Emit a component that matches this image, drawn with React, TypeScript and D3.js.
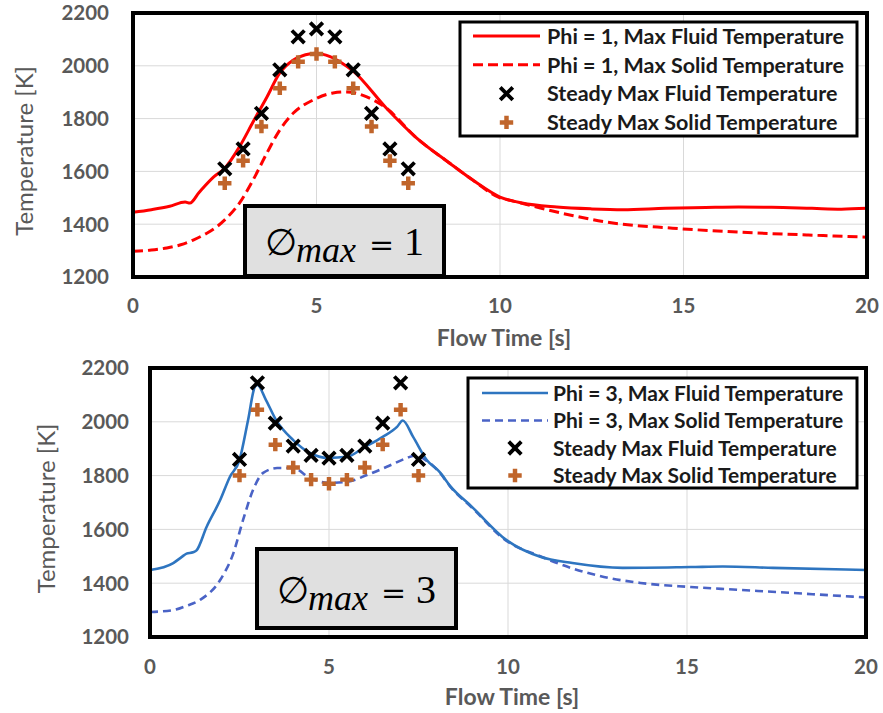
import React, { useRef, useEffect } from "react";
import * as d3 from "d3";

// axes
const timeTicks = [0, 5, 10, 15, 20];
const tempTicks = [1200, 1400, 1600, 1800, 2000, 2200];

// steady state points (same times in both charts)
const steadyTimes = [2.5, 3, 3.5, 4, 4.5, 5, 5.5, 6, 6.5, 7, 7.5];
const phi1SteadyFluid = [1610, 1685, 1820, 1985, 2110, 2140, 2110, 1985, 1820, 1685, 1610];
const phi1SteadySolid = [1555, 1640, 1770, 1915, 2015, 2045, 2015, 1915, 1770, 1640, 1555];
const phi3SteadyFluid = [1860, 2145, 1995, 1910, 1875, 1865, 1875, 1910, 1995, 2145, 1860];
const phi3SteadySolid = [1800, 2045, 1915, 1830, 1785, 1770, 1785, 1830, 1915, 2045, 1800];

// Phi = 1 transient
const phi1FluidTime = [0, 0.5, 1.0, 1.42, 1.55, 1.8, 2.2, 2.5, 2.9, 3.27, 3.65, 4.0, 4.37, 4.7, 4.96, 5.37, 5.7, 6.0, 6.9, 7.7, 8.64, 9.26, 10.0, 10.6, 11.55, 12.5, 13.35, 14.5, 15.6, 16.5, 17.4, 18.5, 19.3, 20];
const phi1FluidTemp = [1445, 1455, 1468, 1484, 1480, 1520, 1579, 1612, 1693, 1787, 1882, 1973, 2022, 2042, 2048, 2035, 2010, 1980, 1840, 1730, 1630, 1567, 1503, 1480, 1465, 1458, 1455, 1460, 1463, 1465, 1464, 1460, 1457, 1460];
const phi1SolidTime = [0, 0.5, 0.92, 1.3, 1.64, 2.0, 2.28, 2.6, 2.9, 3.27, 3.65, 4.0, 4.37, 4.9, 5.45, 5.83, 6.37, 6.9, 7.7, 8.64, 9.26, 10.0, 10.35, 11.1, 12.0, 12.9, 14.7, 16.5, 18.4, 20];
const phi1SolidTemp = [1298, 1302, 1310, 1322, 1340, 1365, 1390, 1430, 1480, 1567, 1670, 1757, 1821, 1870, 1897, 1901, 1882, 1840, 1730, 1630, 1567, 1500, 1488, 1461, 1432, 1408, 1385, 1370, 1359, 1351];

// Phi = 3 transient
const phi3FluidTime = [0, 0.65, 0.88, 1.02, 1.2, 1.3, 1.58, 1.96, 2.23, 2.5, 2.74, 2.93, 3.0, 3.24, 3.52, 4.0, 4.47, 4.97, 5.5, 6.0, 6.5, 6.9, 7.06, 7.35, 7.73, 8.1, 8.38, 9.0, 9.95, 10.9, 11.8, 13.2, 15.1, 16.0, 17.4, 20];
const phi3FluidTemp = [1449, 1475, 1497, 1510, 1515, 1522, 1609, 1709, 1795, 1858, 2007, 2130, 2137, 2081, 2007, 1932, 1884, 1866, 1870, 1906, 1944, 1981, 2005, 1944, 1858, 1812, 1762, 1683, 1561, 1498, 1475, 1457, 1460, 1462, 1457, 1449];
const phi3SolidTime = [0, 0.65, 1.0, 1.4, 1.96, 2.33, 2.6, 2.88, 3.16, 3.55, 4.0, 4.47, 4.97, 5.5, 6.06, 6.6, 7.17, 7.4, 7.73, 8.1, 8.38, 9.0, 9.95, 10.9, 11.8, 12.8, 13.7, 15.1, 16.5, 17.9, 20];
const phi3SolidTemp = [1293, 1300, 1315, 1338, 1412, 1512, 1635, 1747, 1810, 1828, 1828, 1791, 1773, 1777, 1802, 1832, 1865, 1875, 1855, 1810, 1760, 1680, 1558, 1500, 1455, 1420, 1401, 1386, 1375, 1364, 1347];

const phi1Legend = ["Phi = 1, Max Fluid Temperature", "Phi = 1, Max Solid Temperature", "Steady Max Fluid Temperature", "Steady Max Solid Temperature"];
const phi3Legend = ["Phi = 3, Max Fluid Temperature", "Phi = 3, Max Solid Temperature", "Steady Max Fluid Temperature", "Steady Max Solid Temperature"];

const GRAY = "#595959";
const BROWN = "#c0652b";
const FONT = "Lato, 'Open Sans', sans-serif";

function drawPanel(svg, cfg) {
  const x = d3.scaleLinear().domain([0, 20]).range([cfg.left, cfg.right]);
  const y = d3.scaleLinear().domain([1200, 2200]).range([cfg.bottom, cfg.top]);
  const g = svg.append("g");

  // grid
  g.selectAll(".vgrid")
    .data(timeTicks.slice(1, -1))
    .join("line")
    .attr("x1", (d) => x(d))
    .attr("x2", (d) => x(d))
    .attr("y1", cfg.top)
    .attr("y2", cfg.bottom)
    .attr("stroke", "#d9d9d9")
    .attr("stroke-width", 1);
  g.selectAll(".hgrid")
    .data(tempTicks.slice(1, -1))
    .join("line")
    .attr("x1", cfg.left)
    .attr("x2", cfg.right)
    .attr("y1", (d) => y(d))
    .attr("y2", (d) => y(d))
    .attr("stroke", "#d9d9d9")
    .attr("stroke-width", 1);

  // tick labels
  g.selectAll(".ytick")
    .data(tempTicks)
    .join("text")
    .attr("x", cfg.yLabelX)
    .attr("y", (d) => y(d))
    .attr("dy", "0.36em")
    .attr("text-anchor", "end")
    .style("font-family", FONT)
    .style("font-weight", 700)
    .style("font-size", "20.5px")
    .style("fill", GRAY)
    .text((d) => d);
  g.selectAll(".xtick")
    .data(timeTicks)
    .join("text")
    .attr("x", (d) => x(d))
    .attr("y", cfg.xLabelY)
    .attr("text-anchor", "middle")
    .style("font-family", FONT)
    .style("font-weight", 700)
    .style("font-size", "20.5px")
    .style("fill", GRAY)
    .text((d) => d);

  // axis titles
  g.append("text")
    .attr("x", (cfg.left + cfg.right) / 2 + 4)
    .attr("y", cfg.xTitleY)
    .attr("text-anchor", "middle")
    .style("font-family", FONT)
    .style("font-weight", 700)
    .style("font-size", "23px")
    .style("fill", GRAY)
    .text("Flow Time [s]");
  g.append("text")
    .attr("transform", `translate(${cfg.yTitleX},${(cfg.top + cfg.bottom) / 2 + 6}) rotate(-90)`)
    .attr("text-anchor", "middle")
    .attr("dy", "0.35em")
    .style("font-family", FONT)
    .style("font-size", "24px")
    .style("fill", GRAY)
    .text("Temperature [K]");

  // transient lines
  const line = d3
    .line()
    .x((d) => x(d[0]))
    .y((d) => y(d[1]))
    .curve(d3.curveMonotoneX);

  g.append("path")
    .datum(d3.zip(cfg.solidTime, cfg.solidTemp))
    .attr("d", line)
    .attr("fill", "none")
    .attr("stroke", cfg.dashColor)
    .attr("stroke-width", cfg.lineWidth)
    .attr("stroke-dasharray", cfg.dash);
  g.append("path")
    .datum(d3.zip(cfg.fluidTime, cfg.fluidTemp))
    .attr("d", line)
    .attr("fill", "none")
    .attr("stroke", cfg.lineColor)
    .attr("stroke-width", cfg.lineWidth);

  // steady markers
  const plus = d3.symbol(d3.symbolCross, 100);
  const times = d3.symbol(d3.symbolTimes, 105);
  g.selectAll(".plus")
    .data(d3.zip(steadyTimes, cfg.steadySolid))
    .join("path")
    .attr("transform", (d) => `translate(${x(d[0])},${y(d[1])})`)
    .attr("d", plus)
    .attr("fill", BROWN);
  g.selectAll(".times")
    .data(d3.zip(steadyTimes, cfg.steadyFluid))
    .join("path")
    .attr("transform", (d) => `translate(${x(d[0])},${y(d[1])})`)
    .attr("d", times)
    .attr("fill", "none")
    .attr("stroke", "#000")
    .attr("stroke-width", 3.8);

  // frame
  g.append("rect")
    .attr("x", cfg.left)
    .attr("y", cfg.top)
    .attr("width", cfg.right - cfg.left)
    .attr("height", cfg.bottom - cfg.top)
    .attr("fill", "none")
    .attr("stroke", "#000")
    .attr("stroke-width", 4);

  // phi box
  const pb = cfg.phiBox;
  g.append("rect")
    .attr("x", pb.x)
    .attr("y", pb.y)
    .attr("width", pb.w)
    .attr("height", pb.h)
    .attr("fill", "#e0e0e0")
    .attr("stroke", "#000")
    .attr("stroke-width", 4);
  const pt = g
    .append("text")
    .attr("x", pb.x + pb.w / 2)
    .attr("y", pb.y + pb.h / 2 + 14)
    .attr("text-anchor", "middle")
    .style("fill", "#000");
  pt.append("tspan").style("font-family", "'DejaVu Serif'").style("font-size", "37px").text("\u2205");
  pt.append("tspan")
    .attr("dy", 7)
    .attr("dx", -1)
    .style("font-family", "'Liberation Serif'")
    .style("font-style", "italic")
    .style("font-size", "36px")
    .text("max");
  pt.append("tspan")
    .attr("dy", -7)
    .attr("dx", 13)
    .style("font-family", "'DejaVu Serif'")
    .style("font-size", "30px")
    .text("=");
  pt.append("tspan")
    .attr("dx", 10)
    .style("font-family", "'Liberation Serif'")
    .style("font-size", "40px")
    .text(cfg.phi);

  // legend
  const lg = cfg.legend;
  g.append("rect")
    .attr("x", lg.x)
    .attr("y", lg.y)
    .attr("width", lg.w)
    .attr("height", lg.h)
    .attr("fill", "#fff")
    .attr("stroke", "#000")
    .attr("stroke-width", 3);
  const rows = g
    .selectAll(".lrow")
    .data(cfg.legendLabels)
    .join("g")
    .attr("transform", (d, i) => `translate(${lg.x},${lg.y + lg.firstRow + i * lg.rowGap})`);
  rows
    .append("text")
    .attr("x", lg.textX)
    .attr("dy", "0.36em")
    .style("font-family", FONT)
    .style("font-weight", 700)
    .style("font-size", lg.fontSize + "px")
    .style("fill", "#1a1a1a")
    .text((d) => d);
  rows
    .filter((d, i) => i < 2)
    .append("line")
    .attr("x1", lg.sampleX0)
    .attr("x2", lg.sampleX1)
    .attr("stroke", (d, i) => (i === 0 ? cfg.lineColor : cfg.dashColor))
    .attr("stroke-width", cfg.lineWidth)
    .attr("stroke-dasharray", (d, i) => (i === 0 ? null : cfg.dash));
  rows
    .filter((d, i) => i === 2)
    .append("path")
    .attr("transform", `translate(${(lg.sampleX0 + lg.sampleX1) / 2},0)`)
    .attr("d", times)
    .attr("fill", "none")
    .attr("stroke", "#000")
    .attr("stroke-width", 3.8);
  rows
    .filter((d, i) => i === 3)
    .append("path")
    .attr("transform", `translate(${(lg.sampleX0 + lg.sampleX1) / 2},0)`)
    .attr("d", plus)
    .attr("fill", BROWN);
}

function Chart() {
  const ref = useRef(null);

  useEffect(() => {
    const svg = d3.select(ref.current);
    svg.selectAll("*").remove();

    drawPanel(svg, {
      left: 133,
      right: 867,
      top: 13,
      bottom: 277,
      yLabelX: 109,
      xLabelY: 313,
      xTitleY: 346,
      yTitleX: 25,
      lineColor: "#ff0000",
      dashColor: "#ff0000",
      lineWidth: 3,
      dash: "10,5",
      fluidTime: phi1FluidTime,
      fluidTemp: phi1FluidTemp,
      solidTime: phi1SolidTime,
      solidTemp: phi1SolidTemp,
      steadyFluid: phi1SteadyFluid,
      steadySolid: phi1SteadySolid,
      phi: 1,
      phiBox: { x: 245, y: 206, w: 199, h: 70 },
      legend: { x: 460, y: 22, w: 397, h: 114, firstRow: 14, rowGap: 28.8, textX: 87, sampleX0: 13, sampleX1: 80, fontSize: 21.5 },
      legendLabels: phi1Legend,
    });

    drawPanel(svg, {
      left: 150,
      right: 866,
      top: 368,
      bottom: 637,
      yLabelX: 129,
      xLabelY: 674,
      xTitleY: 705,
      yTitleX: 47,
      lineColor: "#2e75c0",
      dashColor: "#4a63c6",
      lineWidth: 2.6,
      dash: "8,5",
      fluidTime: phi3FluidTime,
      fluidTemp: phi3FluidTemp,
      solidTime: phi3SolidTime,
      solidTemp: phi3SolidTemp,
      steadyFluid: phi3SteadyFluid,
      steadySolid: phi3SteadySolid,
      phi: 3,
      phiBox: { x: 257, y: 549, w: 199, h: 79 },
      legend: { x: 468, y: 378, w: 389, h: 110, firstRow: 15, rowGap: 27.5, textX: 85, sampleX0: 14, sampleX1: 80, fontSize: 21 },
      legendLabels: phi3Legend,
    });
  }, []);

  return (
    <svg
      ref={ref}
      width={883}
      height={713}
      style={{ position: "absolute", left: 0, top: 0, background: "#fff" }}
    ></svg>
  );
}

export default function App() {
  return <Chart />;
}
